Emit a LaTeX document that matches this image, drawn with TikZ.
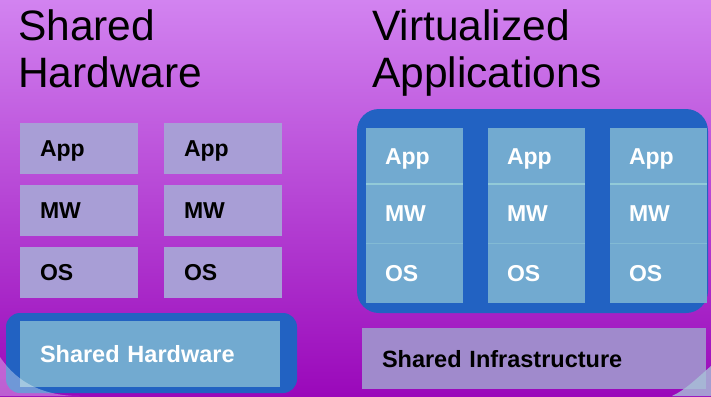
\documentclass[tikz,border=0pt]{standalone}
\usepackage{fontspec}
\setmainfont{Liberation Sans}
\usetikzlibrary{positioning}

\definecolor{bgtop}{HTML}{D283F0}
\definecolor{bgbot}{HTML}{9A08BA}
\definecolor{vmblue}{HTML}{2262C2}
\definecolor{vmlight}{HTML}{72AAD0}
\definecolor{vmline}{HTML}{92CAD8}
\definecolor{stackfill}{HTML}{A89ED6}
\definecolor{infrafill}{HTML}{A08ACC}
\definecolor{cornerblue}{HTML}{A8C2D8}

\begin{document}
\begin{tikzpicture}[
        x=1pt, y=-1pt, % one unit is one pixel of the slide, y runs down
        % big slide headings
        title/.style={font=\fontsize{42.5}{47}\selectfont, anchor=north west, align=left, inner sep=0pt},
        % lavender boxes of the shared hardware stacks
        stackbox/.style={fill=stackfill, anchor=north west, text width=78pt, inner xsep=20pt, inner ysep=0pt,
            outer sep=0pt, minimum height=51pt, align=left, text height=16.5pt, text depth=0pt,
            font=\bfseries\fontsize{23}{26}\selectfont},
        % light blue cells inside the virtualized columns
        vmcell/.style={fill=vmlight, anchor=north west, text width=59pt, inner xsep=19pt, inner ysep=0pt,
            outer sep=0pt, align=left, text=white, text height=16.5pt, text depth=0pt,
            font=\bfseries\fontsize{23}{26}\selectfont},
        % the thin lines between the cells
        sepline/.style={draw=vmline, line width=2pt}
    ]

    % Slide background
    \useasboundingbox (0,0) rectangle (711,396);
    \shade[top color=bgtop, bottom color=bgbot] (0,0) rectangle (711,396);

    % Headings
    \node[title] (title-hw) at (18,10) {Shared\\Hardware};
    \node[title] (title-vm) at (372,10) {Virtualized\\Applications};

    % Left side: one stack per box
    \foreach \i/\x in {1/20,2/164}
    {
        \node[stackbox] (app-l\i) at (\x,123) {App};
        \node[stackbox, below=11pt of app-l\i] (mw-l\i) {MW};
        \node[stackbox, below=11pt of mw-l\i] (os-l\i) {OS};
    }

    % Shared hardware under the left stacks
    \fill[vmblue, rounded corners=14pt] (6,313) rectangle (297,393);
    \node[vmcell, text width=220pt, inner xsep=20pt, minimum height=66pt, text height=17pt,
        font=\bfseries\fontsize{23.5}{26}\selectfont] (shared-hw) at (20,321) {Shared Hardware};

    % Right side: the virtualization layer
    \fill[vmblue, rounded corners=22pt] (357,109) rectangle (708,313);
    \foreach \i/\x in {1/366,2/488,3/610}
    {
        \node[vmcell, minimum height=56pt] (app-r\i) at (\x,128) {App};
        \node[vmcell, minimum height=59pt, below=0pt of app-r\i] (mw-r\i) {MW};
        \node[vmcell, minimum height=60pt, below=0pt of mw-r\i] (os-r\i) {OS};
        \draw[sepline] (app-r\i.south west) -- (app-r\i.south east);
        \draw[sepline, line width=1pt, draw opacity=0.5] (mw-r\i.south west) -- (mw-r\i.south east);
    }

    % Shared infrastructure under the columns
    \node[stackbox, fill=infrafill, text width=304pt, minimum height=61pt, text height=17pt,
        font=\bfseries\fontsize{23.5}{26}\selectfont] (shared-infra) at (362,328) {Shared Infrastructure};

    % Corner swooshes of the slide
    \fill[white, opacity=0.35] (0,357) .. controls (18,384) and (45,396) .. (80,396) -- (0,396) -- cycle;
    \fill[cornerblue, opacity=0.8] (711,366) .. controls (695,380) and (685,390) .. (672,396) -- (711,396) -- cycle;

\end{tikzpicture}
\end{document}
